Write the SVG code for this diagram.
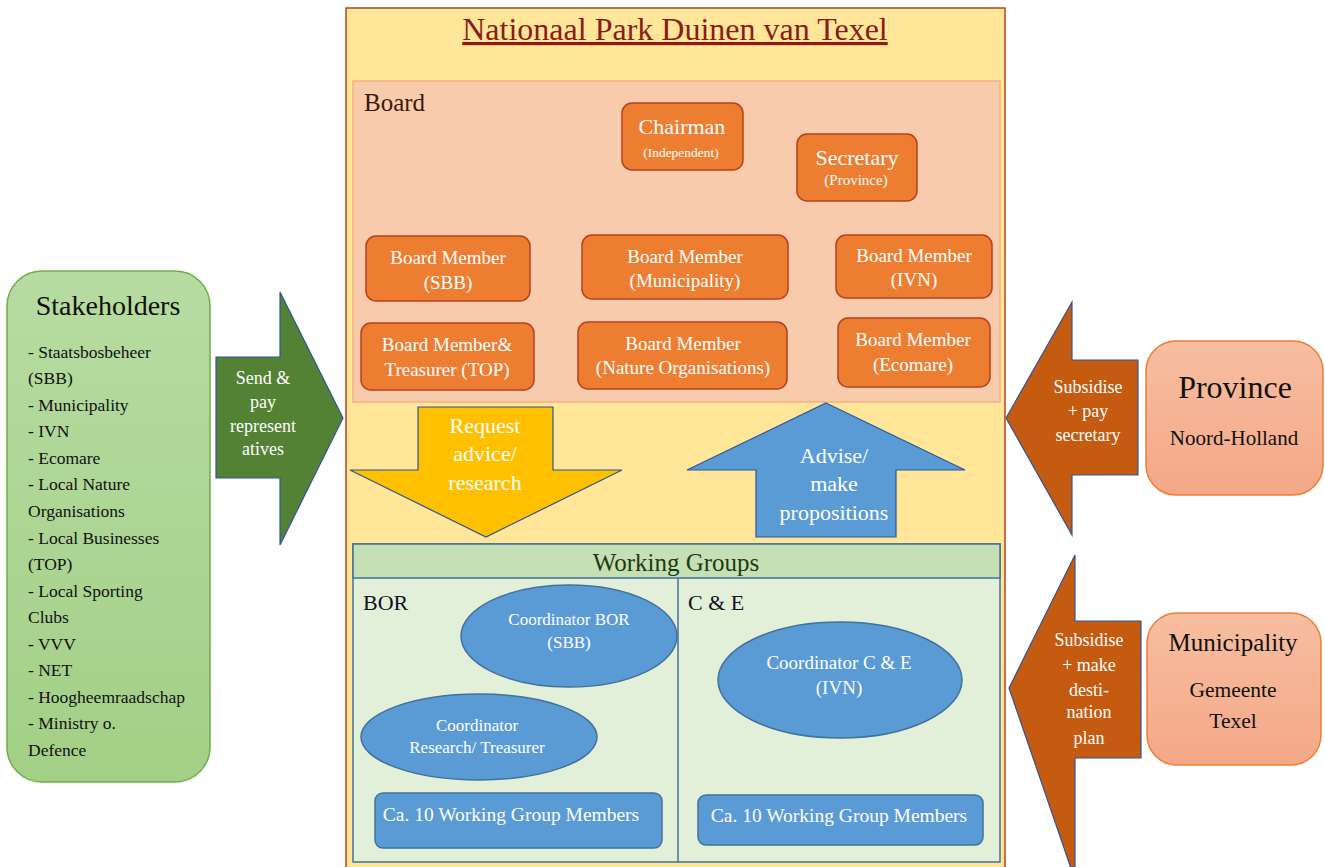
<svg xmlns="http://www.w3.org/2000/svg" width="1325" height="867" viewBox="0 0 1325 867">
<style>
text{font-family:"Liberation Serif","Times New Roman",serif;}
.bm rect{fill:#ed7d31;stroke:#b8401e;stroke-width:1.5;}
.bm text{fill:#ffffff;font-size:19px;text-anchor:middle;}
.blue ellipse,.blue rect{fill:#5b9bd5;stroke:#41719c;stroke-width:1.5;}
.blue text{fill:#ffffff;text-anchor:middle;}
.arr{stroke:#2f5597;stroke-width:1.2;}
.wt{fill:#ffffff;text-anchor:middle;}
.dk{fill:#111111;text-anchor:middle;}
</style>
<defs>
<linearGradient id="gGreen" x1="0" y1="0" x2="0" y2="1"><stop offset="0" stop-color="#b7dca2"/><stop offset="1" stop-color="#a3cf86"/></linearGradient>
<linearGradient id="gPeach" x1="0" y1="0" x2="0" y2="1"><stop offset="0" stop-color="#f7bea0"/><stop offset="1" stop-color="#f4a888"/></linearGradient>
</defs>

<g id="park">
<rect x="346" y="8" width="659" height="880" fill="#ffe699" stroke="#b5441b" stroke-width="1.5"/>
<text x="675" y="40" font-size="32" fill="#8b1a1a" text-anchor="middle" text-decoration="underline">Nationaal Park Duinen van Texel</text>
</g>

<g id="board">
<rect x="353" y="81" width="647" height="321" fill="#f8cbad" stroke="#f4b183" stroke-width="1.5"/>
<text x="364" y="111" font-size="25" fill="#3b1a0a">Board</text>
</g>

<g id="chairman" class="bm">
<rect x="622" y="103" width="121" height="67" rx="10"/>
<text x="682" y="134" font-size="22" style="font-size:22px">Chairman</text>
<text x="681" y="157" style="font-size:13.5px">(Independent)</text>
</g>
<g id="secretary" class="bm">
<rect x="797" y="134" width="120" height="67" rx="10"/>
<text x="857" y="165" style="font-size:22px">Secretary</text>
<text x="856" y="185" style="font-size:15px">(Province)</text>
</g>

<g id="bm-sbb" class="bm">
<rect x="366" y="236" width="164" height="65" rx="10"/>
<text x="448" y="264">Board Member</text>
<text x="448" y="289">(SBB)</text>
</g>
<g id="bm-mun" class="bm">
<rect x="582" y="235" width="206" height="64" rx="10"/>
<text x="685" y="263">Board Member</text>
<text x="685" y="287">(Municipality)</text>
</g>
<g id="bm-ivn" class="bm">
<rect x="836" y="235" width="156" height="63" rx="10"/>
<text x="914" y="262">Board Member</text>
<text x="914" y="286">(IVN)</text>
</g>
<g id="bm-top" class="bm">
<rect x="361" y="323" width="173" height="67" rx="10"/>
<text x="447" y="351">Board Member&amp;</text>
<text x="447" y="376">Treasurer (TOP)</text>
</g>
<g id="bm-nat" class="bm">
<rect x="578" y="322" width="209" height="67" rx="10"/>
<text x="683" y="350">Board Member</text>
<text x="683" y="374">(Nature Organisations)</text>
</g>
<g id="bm-eco" class="bm">
<rect x="838" y="318" width="152" height="69" rx="10"/>
<text x="913" y="346">Board Member</text>
<text x="913" y="371">(Ecomare)</text>
</g>

<g id="working-groups">
<rect x="353" y="544" width="647" height="318" fill="#e2efd9" stroke="#41719c" stroke-width="1.5"/>
<rect x="353" y="544" width="647" height="34" fill="#c5e0b4" stroke="#41719c" stroke-width="1.5"/>
<line x1="678" y1="578" x2="678" y2="862" stroke="#41719c" stroke-width="1.5"/>
<text x="676" y="571" font-size="25" fill="#1e3b14" text-anchor="middle">Working Groups</text>
<text x="363" y="610" font-size="22" fill="#111122">BOR</text>
<text x="688" y="610" font-size="22" fill="#111122">C &amp; E</text>
</g>

<g id="coord-bor" class="blue">
<ellipse cx="569" cy="636" rx="108" ry="51"/>
<text x="569" y="625" font-size="17">Coordinator BOR</text>
<text x="569" y="648" font-size="17">(SBB)</text>
</g>
<g id="coord-research" class="blue">
<ellipse cx="479" cy="737" rx="118" ry="43"/>
<text x="477" y="731" font-size="17">Coordinator</text>
<text x="477" y="753" font-size="17">Research/ Treasurer</text>
</g>
<g id="coord-ce" class="blue">
<ellipse cx="840" cy="680" rx="122" ry="58"/>
<text x="839" y="669" font-size="19">Coordinator C &amp; E</text>
<text x="839" y="694" font-size="19">(IVN)</text>
</g>
<g id="members-bor" class="blue">
<rect x="375" y="793" width="287" height="55" rx="8"/>
<text x="511" y="821" font-size="19.5">Ca. 10 Working Group Members</text>
</g>
<g id="members-ce" class="blue">
<rect x="698" y="795" width="285" height="50" rx="8"/>
<text x="839" y="822" font-size="19.5">Ca. 10 Working Group Members</text>
</g>

<g id="stakeholders">
<rect x="7" y="271" width="203" height="511" rx="35" fill="url(#gGreen)" stroke="#70ad47" stroke-width="1.5"/>
<text x="108" y="315" font-size="28" class="dk">Stakeholders</text>
<g font-size="17.5" fill="#111111">
<text x="28" y="358">- Staatsbosbeheer</text>
<text x="28" y="384">(SBB)</text>
<text x="28" y="411">- Municipality</text>
<text x="28" y="437">- IVN</text>
<text x="28" y="464">- Ecomare</text>
<text x="28" y="490">- Local Nature</text>
<text x="28" y="517">Organisations</text>
<text x="28" y="544">- Local Businesses</text>
<text x="28" y="570">(TOP)</text>
<text x="28" y="597">- Local Sporting</text>
<text x="28" y="623">Clubs</text>
<text x="28" y="650">- VVV</text>
<text x="28" y="676">- NET</text>
<text x="28" y="703">- Hoogheemraadschap</text>
<text x="28" y="729">- Ministry o.</text>
<text x="28" y="756">Defence</text>
</g>
</g>

<g id="province">
<rect x="1146" y="341" width="177" height="154" rx="30" fill="url(#gPeach)" stroke="#ed7d31" stroke-width="1.5"/>
<text x="1235" y="398" font-size="32" class="dk">Province</text>
<text x="1234" y="445" font-size="21" class="dk">Noord-Holland</text>
</g>
<g id="municipality">
<rect x="1147" y="613" width="174" height="152" rx="30" fill="url(#gPeach)" stroke="#ed7d31" stroke-width="1.5"/>
<text x="1233" y="651" font-size="25" class="dk">Municipality</text>
<text x="1233" y="697" font-size="21.5" class="dk">Gemeente</text>
<text x="1233" y="728" font-size="21.5" class="dk">Texel</text>
</g>

<g id="connectors">
<g id="arrow-send">
<polygon class="arr" points="216,357 280,357 280,292 343,418 280,545 280,478 216,478" fill="#548235"/>
<g font-size="18" class="wt">
<text x="263" y="384">Send &amp;</text>
<text x="263" y="408">pay</text>
<text x="263" y="432">represent</text>
<text x="263" y="455">atives</text>
</g>
</g>
<g id="arrow-request">
<polygon class="arr" points="418,407 553,407 553,470 622,470 486,537 350,470 418,470" fill="#ffc000"/>
<g font-size="22" class="wt">
<text x="485" y="433">Request</text>
<text x="485" y="461">advice/</text>
<text x="485" y="490">research</text>
</g>
</g>
<g id="arrow-advise">
<polygon class="arr" points="826,403 965,470 896,470 896,537 756,537 756,470 687,470" fill="#5b9bd5"/>
<g font-size="22" class="wt">
<text x="834" y="463">Advise/</text>
<text x="834" y="491">make</text>
<text x="834" y="520">propositions</text>
</g>
</g>
<g id="arrow-province">
<polygon class="arr" points="1006,418 1072,302 1072,360 1138,360 1138,475 1072,475 1072,535" fill="#c55a11"/>
<g font-size="18" class="wt">
<text x="1088" y="393">Subsidise</text>
<text x="1088" y="417">+ pay</text>
<text x="1088" y="441">secretary</text>
</g>
</g>
<g id="arrow-municipality">
<polygon class="arr" points="1009,688 1075,555 1075,621 1141,621 1141,758 1075,758 1075,880" fill="#c55a11"/>
<g font-size="18" class="wt">
<text x="1089" y="646">Subsidise</text>
<text x="1089" y="671">+ make</text>
<text x="1089" y="696">desti-</text>
<text x="1089" y="718">nation</text>
<text x="1089" y="744">plan</text>
</g>
</g>
</g>
</svg>
